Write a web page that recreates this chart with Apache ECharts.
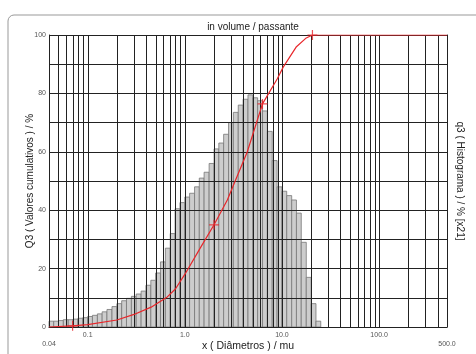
<!DOCTYPE html>
<html>
<head>
<meta charset="utf-8">
<script src="https://cdn.jsdelivr.net/npm/echarts@6/dist/echarts.min.js"></script>
<style>
html,body{margin:0;padding:0;background:#fff;}
#chart{width:476px;height:354px;}
</style>
</head>
<body>
<div id="chart"></div>
<script>
// Histogram bin edges (µm) and heights (% of axis)
var histEdges = [0.04,0.0447,0.0501,0.0562,0.0631,0.0708,0.0794,0.0891,0.1,0.112,0.126,0.141,0.158,0.178,0.2,0.224,0.251,0.282,0.316,0.355,0.398,0.447,0.501,0.562,0.631,0.708,0.794,0.891,1.0,1.12,1.26,1.41,1.58,1.78,2.0,2.24,2.51,2.82,3.16,3.55,3.98,4.47,5.01,5.62,6.31,7.08,7.94,8.91,10.0,11.2,12.6,14.1,15.8,17.8,20.0,22.4,25.1];
var histValues = [2,2,2.2,2.5,2.5,2.7,3,3.2,3.6,4,4.5,5.2,6,7,8,9,9.8,10.5,11.3,12.3,14.3,16,18.5,22.3,27,32,40.5,42.6,44.5,45.8,48,51,53,56,61,63,66,70,73.5,76,78,79.5,78.5,77.5,74,67,57,48,46.5,45,43.5,39,29,17,8,2];
// Cumulative curve
var cumX = [0.04,0.07,0.1,0.2,0.3,0.45,0.66,0.8,1.0,1.44,2.0,2.74,3.3,4.4,6.3,8.96,10.3,14.1,17.8,20.6,500];
var cumY = [0,0.4,0.8,2.4,4.3,6.8,10.3,13,18,27,35,43.5,50,60,76.4,85,89,96,99,100,100];
// Cross markers on the curve
var markX = [0.07,2.0,6.3,20.6];
var markY = [0.4,35,76.4,100];
// Vertical grid line positions (log decades)
var gridX = [0.04,0.05,0.06,0.07,0.08,0.09,0.1,0.2,0.3,0.4,0.5,0.6,0.7,0.8,0.9,1,2,3,4,5,6,7,8,9,10,20,30,40,50,60,70,80,90,100,200,300,400,500];
// X tick labels placed one line lower
var xLowLabels = [0.04, 500];

var FONT = 'Liberation Sans, Arial, sans-serif';
var chart = echarts.init(document.getElementById('chart'), null, {renderer:'canvas'});

var histData = [];
for (var i = 0; i < histValues.length; i++) histData.push([histEdges[i], histEdges[i+1], histValues[i]]);
var cumData = cumX.map(function(x, i){ return [x, cumY[i]]; });
var markData = markX.map(function(x, i){ return [x, markY[i]]; });
var gridData = gridX.map(function(x){ return [x, 0]; });

function fmtX(v){
  var r = Math.round(v * 1000) / 1000;
  var s;
  if (Math.abs(r - 0.04) < 1e-6) s = '0.04';
  else if (r < 1) s = String(r);
  else s = r.toFixed(1);
  for (var k = 0; k < xLowLabels.length; k++) {
    if (Math.abs(r - xLowLabels[k]) < 1e-6) return '\n' + s;
  }
  return s;
}

var option = {
  backgroundColor: '#fff',
  animation: false,
  title: {
    text: 'in volume / passante',
    left: 248, top: 17, textAlign: 'center',
    textStyle: {fontSize: 10, fontWeight: 'normal', color: '#222', fontFamily: FONT}
  },
  graphic: [{
    type: 'rect', shape: {x: 8, y: 15, width: 480, height: 360, r: 6},
    style: {fill: 'none', stroke: '#999', lineWidth: 1}, silent: true, z: -1
  }],
  grid: {left: 49, right: 29, top: 35, bottom: 27, show: false, containLabel: false, outerBoundsMode: 'none'},
  xAxis: {
    type: 'log', logBase: 10, min: 0.04, max: 500, z: 3,
    name: 'x ( Diâmetros ) / mu', nameLocation: 'middle', nameGap: 14, nameMoveOverlap: false,
    nameTextStyle: {fontSize: 10.5, color: '#222', fontFamily: FONT},
    axisLine: {show: true, lineStyle: {color: '#222', width: 1}},
    axisTick: {show: false},
    splitLine: {show: false},
    axisLabel: {fontSize: 7, color: '#555', margin: 4, fontFamily: FONT, lineHeight: 9, formatter: fmtX}
  },
  yAxis: [{
    type: 'value', min: 0, max: 100, interval: 10, z: 3,
    name: 'Q3 ( Valores cumulativos ) / %', nameLocation: 'middle', nameGap: 14, nameRotate: 90, nameMoveOverlap: false,
    nameTextStyle: {fontSize: 10, color: '#222', fontFamily: FONT},
    axisLine: {show: true, lineStyle: {color: '#222', width: 1}},
    axisTick: {show: false},
    splitLine: {show: true, lineStyle: {color: '#222', width: 1}},
    axisLabel: {fontSize: 7, color: '#555', margin: 3, fontFamily: FONT,
      formatter: function(v){ return v % 20 === 0 ? String(v) : ''; }}
  }, {
    type: 'value', min: 0, max: 100, interval: 10, position: 'right', z: 3,
    name: 'q3 ( Histograma ) / % [x21]', nameLocation: 'middle', nameGap: 8, nameRotate: -90, nameMoveOverlap: false,
    nameTextStyle: {fontSize: 10, color: '#222', fontFamily: FONT},
    axisLine: {show: true, lineStyle: {color: '#222', width: 1}},
    axisTick: {show: false}, splitLine: {show: false}, axisLabel: {show: false}
  }],
  series: [{
    type: 'custom', name: 'hist', z: 1, silent: true,
    data: histData,
    encode: {x: [0, 1], y: 2},
    renderItem: function(params, api){
      var p0 = api.coord([api.value(0), api.value(2)]);
      var p1 = api.coord([api.value(1), 0]);
      return {type: 'rect', shape: {x: p0[0], y: p0[1], width: p1[0] - p0[0], height: p1[1] - p0[1]},
        style: {fill: '#cdcdcd', stroke: '#777', lineWidth: 0.8}};
    }
  }, {
    type: 'custom', name: 'vgrid', z: 3, silent: true,
    data: gridData,
    encode: {x: 0, y: 1},
    renderItem: function(params, api){
      var a = api.coord([api.value(0), 0]);
      var b = api.coord([api.value(0), 100]);
      return {type: 'line', shape: {x1: Math.round(a[0]) + 0.5, y1: a[1], x2: Math.round(b[0]) + 0.5, y2: b[1]},
        style: {stroke: '#222', lineWidth: 1}};
    }
  }, {
    type: 'line', name: 'Q3', z: 6, data: cumData, symbol: 'none',
    lineStyle: {color: '#e8262a', width: 1.2}
  }, {
    type: 'scatter', name: 'marks', z: 7, data: markData,
    symbol: 'path://M0,5L10,5M5,0L5,10', symbolSize: 10,
    itemStyle: {color: 'none', borderColor: '#e8262a', borderWidth: 1.2}
  }]
};
chart.setOption(option);
</script>
</body>
</html>
